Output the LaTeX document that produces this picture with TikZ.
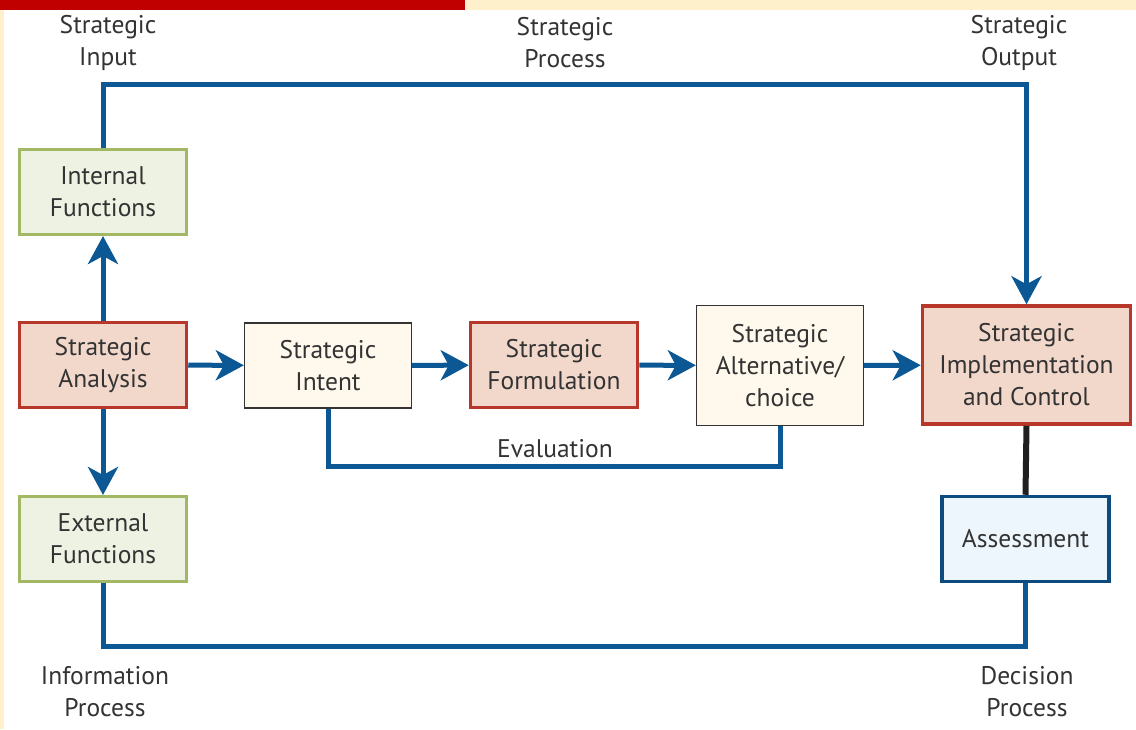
\documentclass[tikz,border=0pt]{standalone}
\usepackage{fontspec}
\setmainfont{PT Sans}
\usetikzlibrary{arrows.meta}

\definecolor{flowblue}{HTML}{0B5894}
\definecolor{redline}{HTML}{B8372B}
\definecolor{redfill}{HTML}{F2D7CB}
\definecolor{greenline}{HTML}{A3B865}
\definecolor{greenfill}{HTML}{EEF2E2}
\definecolor{creamfill}{HTML}{FFF8EC}
\definecolor{navyline}{HTML}{0D4A7D}
\definecolor{bluefill}{HTML}{EEF6FD}
\definecolor{textgray}{HTML}{333333}
\definecolor{barred}{HTML}{C00000}
\definecolor{barbeige}{HTML}{FFF0CC}

\tikzset{
    txt/.style={text=textgray, align=center, font=\fontsize{25.5}{32}\selectfont},
    box/.style={txt, draw, inner sep=0pt, minimum width=167pt, minimum height=85pt},
    redbox/.style={box, draw=redline, fill=redfill, line width=3.5pt},
    greenbox/.style={box, draw=greenline, fill=greenfill, line width=3pt},
    plainbox/.style={box, draw=black!80, fill=creamfill, line width=1.3pt},
    bluebox/.style={box, draw=navyline, fill=bluefill, line width=3.5pt},
    flow/.style={draw=flowblue, line width=5pt},
    arr/.style={flow, -{Stealth[length=28pt,width=30pt,inset=8pt]}},
}

\begin{document}
\begin{tikzpicture}[x=1pt,y=-1pt]
    \useasboundingbox (0,0) rectangle (1136,729);
    \fill[white] (0,0) rectangle (1136,729);
    \fill[barbeige] (0,0) rectangle (4,729);
    \fill[barred] (0,0) rectangle (465,10);
    \fill[barbeige] (465,0) rectangle (1136,10);

    % boxes
    \node[greenbox] (intfun) at (103,192) {Internal\\Functions};
    \node[redbox] (analysis) at (103,365) {Strategic\\Analysis};
    \node[greenbox] (extfun) at (103,539) {External\\Functions};
    \node[plainbox] (intent) at (328,365.5) {Strategic\\Intent};
    \node[redbox] (formul) at (554,365) {Strategic\\Formulation};
    \node[plainbox, minimum height=120pt] (alt) at (780,365.5) {Strategic\\Alternative/\\choice};
    \node[redbox, minimum width=208pt, minimum height=118pt] (impl) at (1026.5,365) {Strategic\\Implementation\\and Control};
    \node[bluebox] (assess) at (1025.5,539) {Assessment};

    % labels
    \node[txt] (sinput) at (108,43) {Strategic\\Input};
    \node[txt] (sprocess) at (565,43) {Strategic\\Process};
    \node[txt] (soutput) at (1019,43) {Strategic\\Output};
    \node[txt] (infoproc) at (105,692) {Information\\Process};
    \node[txt] (decproc) at (1027,692) {Decision\\Process};
    \node[txt] (evallabel) at (555,449) {Evaluation};

    % connectors
    \draw[arr] (analysis) -- (intfun);
    \draw[arr] (analysis) -- (extfun);
    \draw[arr] (analysis) -- (intent);
    \draw[arr] (intent) -- (formul);
    \draw[arr] (formul) -- (alt);
    \draw[arr] (alt) -- (impl);
    \draw[arr] (intfun.north) -- ++(0,-64) -| (impl.north);
    \draw[flow] (intent.south) -- ++(0,58) -| (alt.south);
    \draw[flow] (extfun.south) -- ++(0,63) -| (assess.south);
    \draw[line width=6pt, draw=black!88] (impl.south) -- (assess.north);
\end{tikzpicture}
\end{document}
